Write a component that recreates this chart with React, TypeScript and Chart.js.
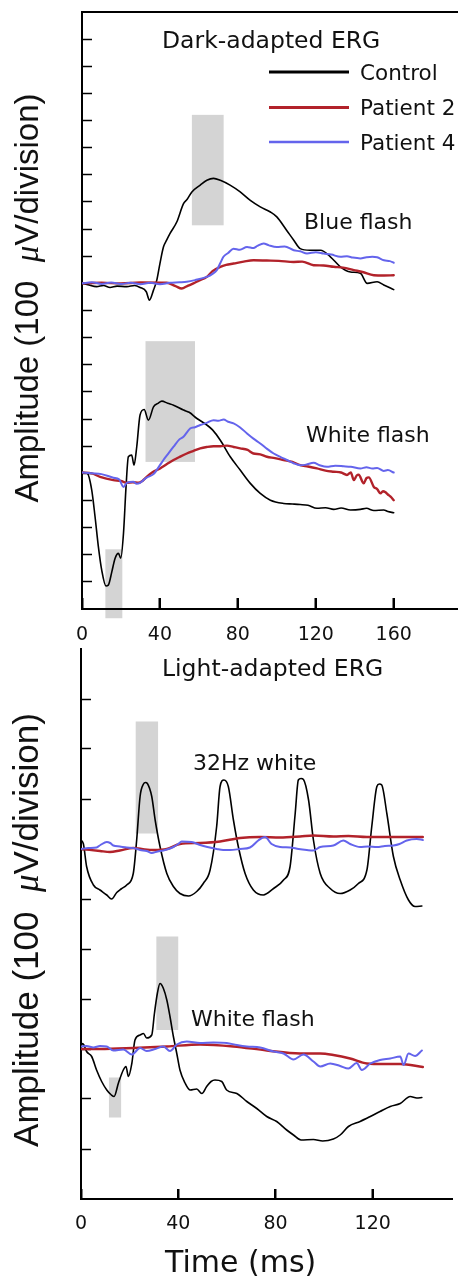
import React, { useEffect, useRef } from 'react';
import { Chart, registerables } from 'chart.js';

Chart.register(...registerables);

// ================= DATA =================
// Time in ms; amplitudes in µV relative to each trace's own baseline (100 µV = 1 division)
const seriesNames = ['Control', 'Patient 2', 'Patient 4'];

// ---- Dark-adapted ERG, blue flash ----
const darkBlueControlT = [0, 3, 7.5, 11, 14.4, 18, 23, 27, 29.8, 33, 34.6, 36.7, 38.4, 40, 41.8, 43.5, 45.2, 48.7, 52.1, 54, 56.4, 60.7, 64.1, 67.5, 71, 76, 81.2, 86.4, 91.5, 96.7, 100, 105, 108.7, 112, 117, 122.4, 127.5, 132.6, 137.8, 142.9, 146.4, 151.5, 154.9, 160];
const darkBlueControlV = [0, -5, -12, -8, -15, -10, -12, -8, -15, -31, -62, -25, 12, 73, 134, 160, 184, 227, 294, 310, 337, 362, 380, 387, 380, 362, 337, 306, 282, 263, 245, 196, 159, 128, 122, 122, 98, 61, 42, 37, 0, 6, -6, -23];
const darkBlueP2T = [0, 10, 20, 30, 43.5, 48, 51.2, 54, 57.2, 60, 64.1, 67, 71, 74, 77.8, 83, 88, 94.9, 101, 108.7, 113, 118.9, 124, 129.2, 134, 139.5, 144, 149.8, 155, 160];
const darkBlueP2V = [0, 2, 0, 3, 2, -10, -19, -10, 0, 10, 24, 45, 61, 68, 73, 80, 85, 84, 83, 79, 80, 67, 66, 61, 58, 49, 42, 30, 29, 30];
const darkBlueP4T = [0, 5, 10, 15, 20, 25, 30, 35, 40, 45, 50, 53.8, 58, 64.1, 67, 69.2, 71, 72.6, 75, 77.8, 81, 84.7, 88, 90, 93.2, 96, 100, 104, 108.7, 112, 115.5, 120, 124, 128, 132.6, 136, 139, 142.9, 146, 149, 151.5, 155, 158, 160];
const darkBlueP4V = [0, 4, -2, 3, -2, 2, -3, 2, -3, 2, 4, 6, 12, 24, 35, 49, 75, 98, 112, 128, 124, 134, 130, 138, 147, 140, 134, 136, 122, 118, 110, 115, 110, 106, 98, 100, 95, 92, 96, 98, 96, 85, 82, 76];

// ---- Dark-adapted ERG, white flash ----
const darkWhiteControlT = [0, 2.7, 5, 6.7, 8.4, 10.1, 12.3, 13.5, 15.3, 17, 18.7, 19.9, 21.3, 22.6, 23.8, 25.5, 26.7, 28.1, 29.8, 31.9, 34.1, 36.7, 39, 41, 44, 47, 52.1, 55, 59, 64.1, 67, 71, 76.1, 81.2, 86.4, 91.5, 96.7, 103.5, 108, 112, 116, 120.6, 125, 129.2, 133, 137.8, 142.9, 146, 149.8, 154.9, 157, 160];
const darkWhiteControlV = [3, 0, -62, -160, -270, -356, -415, -412, -363, -313, -295, -313, -221, -50, 61, 67, 30, 98, 215, 235, 196, 245, 258, 266, 258, 251, 233, 225, 202, 178, 160, 122, 61, 12, -37, -74, -99, -111, -113, -115, -118, -129, -127, -133, -128, -135, -133, -129, -137, -135, -141, -145];
const darkWhiteP2T = [0, 5, 9.3, 16.1, 20, 23, 26, 29, 31, 33.2, 36, 40.1, 43.6, 47, 50, 53.8, 57, 60.7, 64, 67.5, 71, 74.4, 77.8, 81.2, 85, 88, 91.5, 94.9, 99, 103.5, 108, 112, 116, 120.6, 125, 129.2, 133, 136, 138, 139.5, 141, 142, 144.6, 146, 147.2, 149.8, 151.5, 153.2, 154.5, 155.8, 157, 158.4, 160];
const darkWhiteP2V = [3, 0, -13, -25, -28, -35, -33, -35, -28, -13, 3, 18, 34, 49, 60, 73, 82, 92, 97, 100, 100, 102, 97, 92, 86, 73, 70, 61, 56, 49, 42, 30, 25, 18, 10, 6, 3, -6, 3, -25, -8, -5, -37, -18, -15, -50, -58, -74, -66, -70, -78, -86, -99];
const darkWhiteP4T = [0, 5, 10, 16.1, 19, 21.3, 23, 26.4, 28, 29.8, 31.5, 33.2, 36.7, 40, 41.8, 44, 47, 50, 52.1, 55.5, 58, 60.7, 64, 67.5, 70, 72.7, 75, 77.8, 81, 84.7, 88, 91.5, 95, 98.4, 102, 105.2, 108.6, 112, 115, 118.9, 122, 125.7, 130, 134.3, 138, 142.9, 146, 149, 151.5, 154.9, 157, 160];
const darkWhiteP4V = [3, 0, -3, -16, -22, -50, -35, -31, -38, -35, -25, -16, -3, 30, 49, 70, 98, 125, 135, 165, 170, 178, 186, 196, 194, 198, 190, 184, 170, 147, 128, 110, 90, 73, 60, 49, 37, 30, 32, 39, 30, 24, 28, 26, 24, 18, 22, 18, 20, 9, 12, 3];

// ---- Light-adapted ERG, 32 Hz white flicker ----
const light32ControlT = [0, 1, 2.3, 5.1, 7.8, 10.6, 12.6, 14.7, 16.5, 18.8, 21.5, 22.9, 24.3, 25.7, 26.5, 27.3, 29.1, 30.5, 32.5, 35.3, 38, 40.7, 44.2, 47.6, 50.3, 53.1, 55.8, 57.2, 58.8, 60.6, 62.7, 64.7, 67.5, 70.9, 75, 79.2, 83.3, 86, 88.1, 89.4, 90.5, 91.5, 93.6, 95.6, 98.4, 102.5, 106.6, 110.7, 114.1, 117.6, 119.6, 121.7, 122.7, 123.7, 125.8, 128.5, 131.3, 134.7, 137.4, 140.2];
const light32ControlV = [18, 10, -35, -72, -82, -92, -100, -87, -80, -72, -49, 18, 105, 130, 133, 131, 105, 58, 5, -49, -75, -89, -94, -85, -69, -42, 45, 125, 138, 125, 58, 5, -49, -82, -92, -79, -62, -35, 71, 138, 141, 139, 98, 18, -49, -79, -89, -82, -69, -42, 45, 125, 130, 128, 71, -15, -62, -102, -115, -114];
const light32P2T = [0, 7.8, 11.9, 16, 21.5, 25, 29.8, 35.3, 40.7, 49, 57.2, 65.4, 73.7, 81.9, 90.1, 95.6, 103.8, 110, 117.6, 124, 131.3, 140.6];
const light32P2V = [0, -4, -6, -3, 2, 0, -2, 0, 10, 12, 15, 22, 24, 23, 25, 27, 25, 26, 24, 24, 24, 24];
const light32P4T = [0, 3, 6.4, 8, 10.6, 12, 13.3, 16, 18.8, 21.5, 24.3, 27, 29.1, 31.5, 33.9, 36, 38, 40, 41.4, 45.5, 49, 52, 55.8, 58.5, 61.3, 65.4, 69.5, 72.9, 75.7, 78.4, 81.9, 86, 89.5, 92.9, 95.5, 98.4, 103.8, 107.9, 110.7, 114.8, 118, 121.7, 125, 128.5, 131, 134, 138.1, 140.6];
const light32P4V = [0, 2, 3, 8, 14, 12, 7, 5, 3, 2, -2, -4, -8, -5, -3, 0, 4, 10, 15, 14, 8, 4, 0, -2, -2, 0, 3, 17, 24, 10, 4, 3, 0, -2, -3, 4, 7, 17, 10, 4, 5, 4, 6, 7, 10, 17, 20, 18];

// ---- Light-adapted ERG, white flash ----
const lightWhiteControlT = [0, 0.6, 1.2, 2.3, 4.4, 6.4, 8.5, 10.6, 12.5, 13.6, 15.4, 17.4, 18.5, 19.5, 20.9, 22.2, 24.3, 25.7, 27, 29.1, 30.2, 31.4, 32.5, 33.9, 35.3, 36.6, 38, 39.4, 40.7, 42.8, 44.9, 47.6, 49.7, 51.7, 53.5, 55.1, 57.9, 59.9, 64.1, 68.2, 72.3, 76.4, 80.5, 84.6, 87.4, 90.5, 95.6, 99.4, 103.8, 106.6, 110, 114.8, 119, 123, 127.2, 131.3, 135.4, 138.1, 140.2];
const lightWhiteControlV = [5, 11, 8, -5, -15, -42, -65, -82, -92, -95, -68, -42, -35, -55, -29, 18, 28, 31, 22, 28, 71, 111, 131, 121, 98, 65, 25, -9, -42, -68, -82, -80, -89, -75, -65, -62, -65, -82, -89, -105, -119, -135, -145, -162, -172, -182, -181, -184, -180, -172, -155, -145, -135, -125, -115, -109, -95, -98, -97];
const lightWhiteP2T = [0, 7.8, 21.5, 35.3, 49, 62.7, 76.4, 90.1, 98.4, 103.8, 110.7, 117.6, 124.5, 131.3, 140.6];
const lightWhiteP2V = [0, 0, 2, 5, 9, 5, -3, -9, -9, -12, -19, -29, -30, -30, -36];
const lightWhiteP4T = [0, 2.3, 5.1, 7.8, 10.6, 13.3, 17.4, 20.9, 24.3, 27, 30.5, 33.9, 36.6, 39.4, 43.5, 49, 54.5, 59.9, 64.1, 68.2, 73.7, 79.2, 83.3, 87.4, 91.5, 95.6, 98.4, 102.5, 106.6, 110, 113.4, 115.5, 119, 123, 127.2, 131.3, 132.7, 134.7, 137.4, 140.2];
const lightWhiteP4V = [5, 6, 3, 6, 5, -3, -1, -11, 2, -4, 0, 5, -4, 9, 15, 12, 13, 12, 8, 5, 3, -5, -9, -21, -11, -25, -35, -29, -34, -39, -28, -42, -29, -22, -19, -15, -32, -9, -14, -3];

// Baselines of the stacked traces (in divisions)
const darkBlueBase = 12;
const darkWhiteBase = 5;
const light32Base = 7;
const lightWhiteBase = 3;

// Shaded measurement windows: time start/end (ms), amplitude low/high (µV re baseline)
const darkWinT0 = [56.4, 32.6, 12.0];
const darkWinT1 = [72.7, 58.0, 20.7];
const darkWinLo = [214, 42, -534];
const darkWinHi = [621, 487, -280];
const darkWinBase = [darkBlueBase, darkWhiteBase, darkWhiteBase];

const lightWinT0 = [22.5, 31.0, 11.5];
const lightWinT1 = [31.7, 40.0, 16.5];
const lightWinLo = [31, 38, -137];
const lightWinHi = [255, 225, -57];
const lightWinBase = [light32Base, lightWhiteBase, lightWhiteBase];

// Axis ticks
const darkXTicks = [0, 40, 80, 120, 160];
const lightXTicks = [0, 40, 80, 120];
const darkYTicks = [1, 2, 3, 4, 5, 6, 7, 8, 9, 10, 11, 12, 13, 14, 15, 16, 17, 18, 19, 20, 21];
const lightYTicks = [1, 2, 3, 4, 5, 6, 7, 8, 9, 10];

// ================= STYLE / LAYOUT =================
const seriesStyle = [
  { color: '#000000', width: 1.6 },
  { color: '#B2222A', width: 2.4 },
  { color: '#6464EC', width: 2 },
];
const TEXT = '#111111';
const SANS = '"DejaVu Sans", sans-serif';
const ARIAL = '"Liberation Sans", Arial, sans-serif';

type Trace = { s: number; t: number[]; v: number[]; base: number };

const darkTraces: Trace[] = [
  { s: 2, t: darkBlueP4T, v: darkBlueP4V, base: darkBlueBase },
  { s: 2, t: darkWhiteP4T, v: darkWhiteP4V, base: darkWhiteBase },
  { s: 1, t: darkBlueP2T, v: darkBlueP2V, base: darkBlueBase },
  { s: 1, t: darkWhiteP2T, v: darkWhiteP2V, base: darkWhiteBase },
  { s: 0, t: darkBlueControlT, v: darkBlueControlV, base: darkBlueBase },
  { s: 0, t: darkWhiteControlT, v: darkWhiteControlV, base: darkWhiteBase },
];
const lightTraces: Trace[] = [
  { s: 2, t: light32P4T, v: light32P4V, base: light32Base },
  { s: 2, t: lightWhiteP4T, v: lightWhiteP4V, base: lightWhiteBase },
  { s: 1, t: light32P2T, v: light32P2V, base: light32Base },
  { s: 1, t: lightWhiteP2T, v: lightWhiteP2V, base: lightWhiteBase },
  { s: 0, t: light32ControlT, v: light32ControlV, base: light32Base },
  { s: 0, t: lightWhiteControlT, v: lightWhiteControlV, base: lightWhiteBase },
];

type TextItem = { text: string; x: number; y: number; size: number };

const darkPanel = {
  top: 0, height: 650,
  padLeft: 82, padTop: 12, padRight: 0, xAxisHeight: 41, tickPad: 26, tickLen: 11,
  xMax: 193, yMax: 22, xTicks: darkXTicks, yTicks: darkYTicks, topBorder: true,
  traces: darkTraces,
  win: { t0: darkWinT0, t1: darkWinT1, lo: darkWinLo, hi: darkWinHi, base: darkWinBase },
  texts: [
    { text: 'Dark-adapted ERG', x: 162, y: 48.3, size: 23.5 },
    { text: 'Blue flash', x: 304, y: 229.3, size: 22 },
    { text: 'White flash', x: 306, y: 441.7, size: 22 },
  ] as TextItem[],
  legend: { x0: 269, x1: 349, tx: 360, ys: [72, 107.5, 142], size: 21.5, widths: [3, 3, 2.5] },
  ylabel: { x: 38, cy: 298, size: 33 },
  xlabel: null as null | TextItem,
};

const lightPanel = {
  top: 640, height: 640,
  padLeft: 81, padTop: 9, padRight: 6, xAxisHeight: 81, tickPad: 24, tickLen: 10,
  xMax: 152.6, yMax: 11, xTicks: lightXTicks, yTicks: lightYTicks, topBorder: false,
  traces: lightTraces,
  win: { t0: lightWinT0, t1: lightWinT1, lo: lightWinLo, hi: lightWinHi, base: lightWinBase },
  texts: [
    { text: 'Light-adapted ERG', x: 162, y: 676, size: 23.5 },
    { text: '32Hz white', x: 193, y: 770, size: 22 },
    { text: 'White flash', x: 191, y: 1026, size: 22 },
  ] as TextItem[],
  legend: null as any,
  ylabel: { x: 38, cy: 930, size: 35 },
  xlabel: { text: 'Time (ms)', x: 165, y: 1271.5, size: 30 } as TextItem,
};

type Panel = typeof darkPanel;

function makePlugin(p: Panel) {
  return {
    id: 'ergDecor',
    beforeDraw(chart: any) {
      const ctx = chart.ctx;
      const xs = chart.scales.x;
      const ys = chart.scales.y;
      ctx.save();
      ctx.fillStyle = '#D4D4D4';
      for (let i = 0; i < p.win.t0.length; i++) {
        const x0 = xs.getPixelForValue(p.win.t0[i]);
        const x1 = xs.getPixelForValue(p.win.t1[i]);
        const yTop = ys.getPixelForValue(p.win.base[i] + p.win.hi[i] / 100);
        const yBot = ys.getPixelForValue(p.win.base[i] + p.win.lo[i] / 100);
        ctx.fillRect(x0, yTop, x1 - x0, yBot - yTop);
      }
      ctx.restore();
    },
    afterDraw(chart: any) {
      const ctx = chart.ctx;
      const off = p.top;
      const xs = chart.scales.x;
      const area = chart.chartArea;
      ctx.save();
      // inward tick marks on the time axis
      ctx.fillStyle = '#000';
      for (const v of p.xTicks) {
        if (v <= 0) continue;
        const px = Math.round(xs.getPixelForValue(v));
        ctx.fillRect(px - 1, area.bottom - p.tickLen, 2, p.tickLen);
      }
      ctx.fillStyle = TEXT;
      ctx.textBaseline = 'alphabetic';
      ctx.textAlign = 'left';
      for (const t of p.texts) {
        ctx.font = `${t.size}px ${SANS}`;
        ctx.fillText(t.text, t.x, t.y - off);
      }
      if (p.xlabel) {
        ctx.font = `${p.xlabel.size}px ${SANS}`;
        ctx.fillText(p.xlabel.text, p.xlabel.x, p.xlabel.y - off);
      }
      if (p.legend) {
        const L = p.legend;
        seriesNames.forEach((name, i) => {
          const y = L.ys[i] - off;
          ctx.strokeStyle = seriesStyle[i].color;
          ctx.lineWidth = L.widths[i];
          ctx.beginPath();
          ctx.moveTo(L.x0, y);
          ctx.lineTo(L.x1, y);
          ctx.stroke();
          ctx.font = `${L.size}px ${SANS}`;
          ctx.fillStyle = TEXT;
          ctx.fillText(name, L.tx, y + 0.365 * L.size);
        });
      }
      // vertical axis label
      const yl = p.ylabel;
      const parts = [
        { t: 'Amplitude (100  ', f: `${yl.size}px ${ARIAL}` },
        { t: 'μ', f: `italic ${yl.size}px "Liberation Serif", serif` },
        { t: 'V/division)', f: `${yl.size}px ${ARIAL}` },
      ];
      let total = 0;
      const widths = parts.map((pt) => {
        ctx.font = pt.f;
        const w = ctx.measureText(pt.t).width;
        total += w;
        return w;
      });
      ctx.fillStyle = TEXT;
      ctx.translate(yl.x, yl.cy - off);
      ctx.rotate(-Math.PI / 2);
      let cx = -total / 2;
      parts.forEach((pt, i) => {
        ctx.font = pt.f;
        ctx.fillText(pt.t, cx, 0);
        cx += widths[i];
      });
      ctx.restore();
    },
  };
}

function makeConfig(p: Panel): any {
  const datasets = p.traces.map((tr) => ({
    label: seriesNames[tr.s],
    data: tr.t.map((t, i) => ({ x: t, y: tr.base + tr.v[i] / 100 })),
    borderColor: seriesStyle[tr.s].color,
    borderWidth: seriesStyle[tr.s].width,
    pointRadius: 0,
    fill: false,
    cubicInterpolationMode: 'monotone',
    borderJoinStyle: 'round',
    borderCapStyle: 'round',
    xAxisID: 'x',
    yAxisID: 'y',
  }));
  const axisBorder = { display: true, color: '#000', width: 2 };
  const scales: any = {
    x: {
      type: 'linear', position: 'bottom', min: 0, max: p.xMax,
      afterBuildTicks: (s: any) => { s.ticks = p.xTicks.map((v) => ({ value: v })); },
      afterFit: (s: any) => { s.height = p.xAxisHeight; },
      grid: { display: true, drawOnChartArea: false, drawTicks: true, tickLength: -p.tickLen, tickWidth: 2, tickColor: '#000' },
      border: axisBorder,
      ticks: { display: true, autoSkip: false, maxRotation: 0, padding: p.tickPad, color: TEXT, font: { family: SANS, size: 19 } },
    },
    y: {
      type: 'linear', position: 'left', min: 0, max: p.yMax,
      afterBuildTicks: (s: any) => { s.ticks = p.yTicks.map((v) => ({ value: v })); },
      afterFit: (s: any) => { s.width = 0; },
      grid: { display: true, drawOnChartArea: false, drawTicks: true, tickLength: -10, tickWidth: 1.5, tickColor: '#000' },
      border: axisBorder,
      ticks: { display: false },
    },
  };
  if (p.topBorder) {
    scales.xTop = {
      type: 'linear', axis: 'x', position: 'top', min: 0, max: p.xMax,
      afterFit: (s: any) => { s.height = 0; },
      grid: { display: true, drawOnChartArea: false, drawTicks: false },
      border: axisBorder,
      ticks: { display: false },
    };
  }
  return {
    type: 'line',
    data: { datasets },
    options: {
      responsive: false,
      maintainAspectRatio: false,
      animation: false,
      events: [],
      layout: { padding: { left: p.padLeft, top: p.padTop, right: p.padRight, bottom: 0 } },
      plugins: { legend: { display: false }, tooltip: { enabled: false }, title: { display: false } },
      scales,
    },
    plugins: [makePlugin(p)],
  };
}

export default function App() {
  const topRef = useRef<HTMLCanvasElement | null>(null);
  const botRef = useRef<HTMLCanvasElement | null>(null);
  useEffect(() => {
    Chart.defaults.font.family = SANS;
    const c1 = new Chart(topRef.current as HTMLCanvasElement, makeConfig(darkPanel));
    const c2 = new Chart(botRef.current as HTMLCanvasElement, makeConfig(lightPanel as any));
    return () => { c1.destroy(); c2.destroy(); };
  }, []);
  return (
    <div style={{ position: 'absolute', left: 0, top: 0, width: 458, height: 1280, background: '#fff' }}>
      <canvas ref={topRef} width={458} height={darkPanel.height}
        style={{ position: 'absolute', left: 0, top: darkPanel.top, width: 458, height: darkPanel.height }} />
      <canvas ref={botRef} width={458} height={lightPanel.height}
        style={{ position: 'absolute', left: 0, top: lightPanel.top, width: 458, height: lightPanel.height }} />
    </div>
  );
}
